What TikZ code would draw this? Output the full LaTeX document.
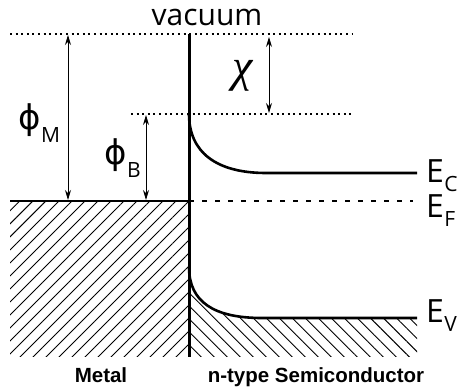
\documentclass[tikz,border=0pt]{standalone}
\usepackage{fontspec}
\setmainfont{Open Sans}
\newfontfamily\symfont{DejaVu Sans}
\newfontfamily\chifont{Liberation Serif}
\newfontfamily\labelfont{Liberation Sans}
\usetikzlibrary{arrows.meta}
\usetikzlibrary{patterns.meta}

\begin{document}
\begin{tikzpicture}[
    x=1pt,
    y=-1pt,
    >={Stealth[length=10pt,width=6pt]},
    every node/.style={inner sep=0pt},
    level/.style={line width=2pt,dash pattern=on 2pt off 3.6pt},
    band/.style={line width=2.6pt},
    gap/.style={<->,line width=0.9pt},
    energy/.style={font=\fontsize{32}{32}\selectfont},
    sub/.style={font=\fontsize{21}{21}\selectfont},
    greek/.style={font=\symfont\fontsize{34}{34}\selectfont},
    region/.style={font=\labelfont\bfseries\fontsize{20.5}{20.5}\selectfont}
]

\useasboundingbox (0,0) rectangle (469,390);

%------------------------------------------------------------
% Coordinates
%------------------------------------------------------------

\coordinate (VL) at (10,34);    % vacuum level
\coordinate (VR) at (352,34);
\coordinate (JT) at (189,34);   % junction
\coordinate (JB) at (189,357);
\coordinate (BL) at (131,114);  % barrier top
\coordinate (BR) at (352,114);
\coordinate (FL) at (10,201);   % Fermi level
\coordinate (FJ) at (189,201);
\coordinate (FR) at (413,201);
\coordinate (C0) at (189,114);  % conduction band
\coordinate (C1) at (266,173);
\coordinate (C2) at (417,173);
\coordinate (V0) at (189,267);  % valence band
\coordinate (V1) at (262,318);
\coordinate (V2) at (417,318);
\coordinate (VB) at (417,357);

%------------------------------------------------------------
% Hatched regions
%------------------------------------------------------------

\fill[pattern={Lines[angle=45,distance=9.2pt,line width=0.9pt]}]
(FL) rectangle (JB);

\fill[pattern={Lines[angle=-45,distance=9.2pt,line width=0.9pt]}]
(V0) .. controls (189,302) and (214,318) .. (V1)
-- (V2) -- (VB) -- (JB) -- cycle;

%------------------------------------------------------------
% Levels
%------------------------------------------------------------

\draw[level] (VL) -- (VR);
\draw[level] (BL) -- (BR);

\draw[line width=2.8pt,dash pattern=on 5pt off 8pt]
(FJ) -- (FR);

\draw[band] (FL) -- (FJ);

\draw[band]
(C0) .. controls (189,152) and (216,173) .. (C1) -- (C2);

\draw[band]
(V0) .. controls (189,302) and (214,318) .. (V1) -- (V2);

% interface
\draw[line width=3pt] (JT) -- (JB);

%------------------------------------------------------------
% Energy differences
%------------------------------------------------------------

\coordinate (MT) at (68,35);
\coordinate (MB) at (68,200);
\coordinate (BT) at (146,115);
\coordinate (BB) at (146,200);
\coordinate (XT) at (269,37);
\coordinate (XB) at (269,113);

\draw[gap] (MT) -- (MB);
\draw[gap] (BT) -- (BB);
\draw[gap] (XT) -- (XB);

%------------------------------------------------------------
% Labels
%------------------------------------------------------------

\node[anchor=base,font=\fontsize{30}{30}\selectfont]
(vac) at (207,26) {vacuum};

\node[greek,anchor=base west]
(phiM) at (18,130) {ϕ};
\node[sub,anchor=base west]
(phiMs) at (phiM.base east) [yshift=-13pt] {M};

\node[greek,anchor=base west]
(phiB) at (104,165) {ϕ};
\node[sub,anchor=base west]
(phiBs) at (phiB.base east) [yshift=-13pt] {B};

\node[font=\chifont\itshape\fontsize{46}{46}\selectfont,anchor=base west]
(chi) at (232,82) {χ};

\node[energy,anchor=base west] (EC) at (426,183) {E};
\node[sub,anchor=base west] at (EC.base east) [yshift=-9pt] (ECs) {C};

\node[energy,anchor=base west] (EF) at (426,218) {E};
\node[sub,anchor=base west] at (EF.base east) [yshift=-9pt] (EFs) {F};

\node[energy,anchor=base west] (EV) at (426,323) {E};
\node[sub,anchor=base west] at (EV.base east) [yshift=-9pt] (EVs) {V};

\node[region,anchor=base] (metal) at (101,382) {Metal};
\node[region,anchor=base] (semi) at (316,382) {n-type Semiconductor};

\end{tikzpicture}
\end{document}
